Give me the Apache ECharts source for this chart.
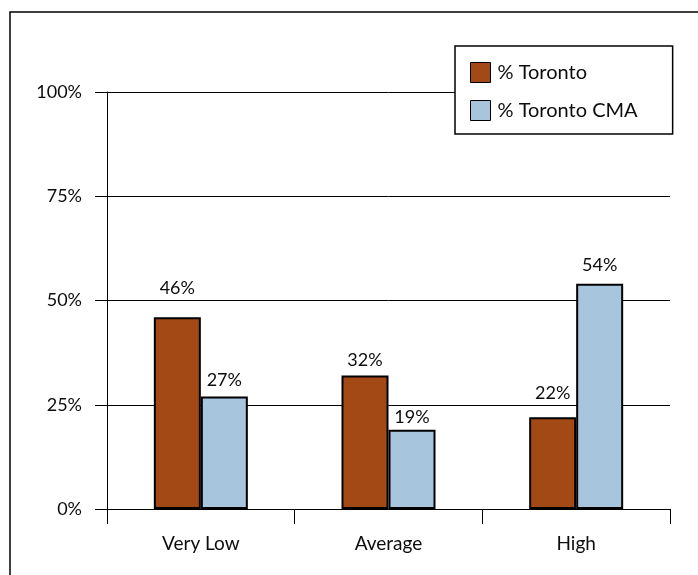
<!DOCTYPE html>
<html>
<head>
<meta charset="utf-8">
<script src="https://cdn.jsdelivr.net/npm/echarts@6/dist/echarts.min.js"></script>
<style>
  html, body { margin: 0; padding: 0; background: #fff; }
  #chart { width: 698px; height: 575px; }
</style>
</head>
<body>
<div id="chart"></div>
<script>
// Income groups along the x axis
const categories = ['Very Low', 'Average', 'High'];
// Share of population in each group (percent)
const torontoValues = [46, 32, 22];
const cmaValues = [27, 19, 54];
const seriesNames = ['% Toronto', '% Toronto CMA'];
// Y axis range and step (percent)
const yMin = 0, yMax = 100, yStep = 25;

// Extra lift of each value label above its bar (px)
const torontoLabelLift = [14, 0, 9];
const cmaLabelLift = [1, -2, 4];

const FONT = 'Lato, "DejaVu Sans", sans-serif';
const TEXT = '#0d0d0d';

function buildData(values, lifts) {
  return values.map((v, i) => ({
    value: v,
    label: { distance: 6 + lifts[i] }
  }));
}

function barSeries(name, values, lifts, color) {
  return {
    name: name,
    type: 'bar',
    barWidth: 47,
    barGap: '0%',
    data: buildData(values, lifts),
    itemStyle: { color: color, borderColor: '#000', borderWidth: 2 },
    label: {
      show: true,
      position: 'top',
      formatter: '{c}%',
      color: TEXT,
      fontFamily: FONT,
      fontSize: 18
    },
    emphasis: { disabled: true }
  };
}

const chart = echarts.init(document.getElementById('chart'));
chart.setOption({
  animation: false,
  backgroundColor: '#fff',
  textStyle: { fontFamily: FONT },
  graphic: [{
    type: 'rect',
    shape: { x: 10, y: 12, width: 900, height: 800 },
    style: { fill: 'none', stroke: '#000', lineWidth: 1.5 },
    silent: true
  }],
  legend: {
    orient: 'vertical',
    left: 455,
    top: 46,
    padding: [16, 35, 13, 15],
    itemGap: 17,
    itemWidth: 20,
    itemHeight: 20,
    borderColor: '#000',
    borderWidth: 1.5,
    backgroundColor: '#fff',
    icon: 'rect',
    itemStyle: { borderWidth: 1, borderColor: '#000' },
    textStyle: { color: TEXT, fontFamily: FONT, fontSize: 20, padding: [0, 0, 0, 2] },
    data: seriesNames
  },
  grid: { left: 107, right: 28, top: 92, bottom: 66, containLabel: false },
  xAxis: {
    type: 'category',
    data: categories,
    axisLine: { lineStyle: { color: '#000', width: 1 } },
    axisTick: { show: true, length: 15, lineStyle: { color: '#000' } },
    axisLabel: { color: TEXT, fontFamily: FONT, fontSize: 19, margin: 25 },
    splitLine: { show: false }
  },
  yAxis: {
    type: 'value',
    min: yMin,
    max: yMax,
    interval: yStep,
    axisLine: { show: true, lineStyle: { color: '#000', width: 1 } },
    axisTick: { show: true, length: 12, lineStyle: { color: '#000' } },
    axisLabel: { color: TEXT, fontFamily: FONT, fontSize: 18, margin: 25, formatter: '{value}%' },
    splitLine: { show: true, lineStyle: { color: '#000', width: 1 } }
  },
  series: [
    barSeries(seriesNames[0], torontoValues, torontoLabelLift, '#A34916'),
    barSeries(seriesNames[1], cmaValues, cmaLabelLift, '#A7C5DD')
  ]
});
</script>
</body>
</html>
